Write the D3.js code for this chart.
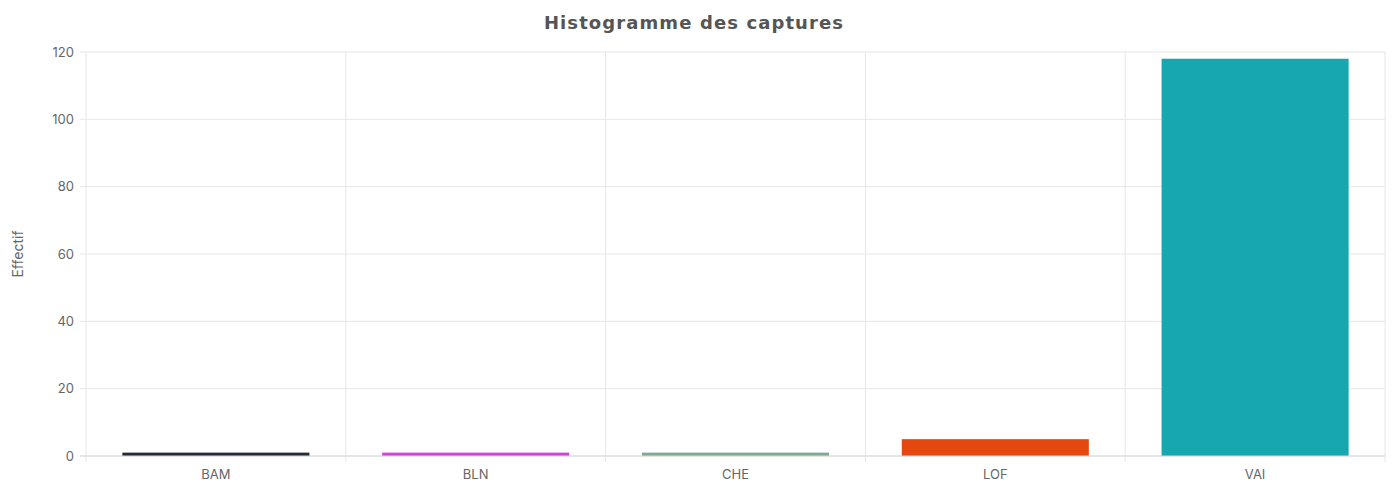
<!DOCTYPE html>
<html><head><meta charset="utf-8">
<script src="https://cdn.jsdelivr.net/npm/d3@7"></script>
<style>body{margin:0;background:#fff;}svg{display:block;}</style>
</head><body>
<svg id="chart" width="1395" height="486"></svg>
<script>
const categories = ["BAM","BLN","CHE","LOF","VAI"];
const values = [1,1,1,5,118];
const colors = ["#1f2a3a","#d43fe0","#7aab94","#e4480f","#16a7b1"];
const yTicks = [0,20,40,60,80,100,120];
const title = "Histogramme des captures";
const yLabel = "Effectif";

const svg = d3.select("#chart");
const m = {left:86, right:10, top:52, bottom:30};
const W = 1395, H = 486;
const x = d3.scaleBand().domain(categories).range([m.left, W - m.right]).paddingInner(0).paddingOuter(0);
const y = d3.scaleLinear().domain([0,120]).range([456, 52]);

svg.append("g").selectAll("line").data(yTicks).join("line")
  .attr("x1", m.left - 6).attr("x2", W - m.right)
  .attr("y1", d => y(d)).attr("y2", d => y(d))
  .attr("stroke", "#e6e6e6").attr("stroke-width", 1);
const bounds = categories.map(c => x(c)).concat([x(categories[categories.length-1]) + x.bandwidth()]);
svg.append("g").selectAll("line").data(bounds).join("line")
  .attr("x1", d => d).attr("x2", d => d)
  .attr("y1", 52).attr("y2", 462)
  .attr("stroke", "#e6e6e6").attr("stroke-width", 1);

const bw = x.bandwidth() * 0.72;
svg.append("g").selectAll("rect").data(categories).join("rect")
  .attr("x", c => x(c) + (x.bandwidth() - bw) / 2)
  .attr("width", bw)
  .attr("y", (c,i) => y(values[i]))
  .attr("height", (c,i) => y(0) - y(values[i]))
  .attr("fill", (c,i) => colors[i]);

svg.append("line").attr("x1", m.left - 6).attr("x2", W - m.right)
  .attr("y1", y(0)).attr("y2", y(0)).attr("stroke", "#d8d8d8");

svg.append("g").selectAll("text").data(yTicks).join("text")
  .attr("x", 74).attr("y", d => y(d)).attr("dy", "0.35em")
  .attr("text-anchor", "end")
  .attr("font-family", "Inter, 'Open Sans', sans-serif").attr("font-size", 13)
  .attr("fill", "#666").text(d => d);

svg.append("g").selectAll("text").data(categories).join("text")
  .attr("x", c => x(c) + x.bandwidth() / 2).attr("y", 479)
  .attr("text-anchor", "middle")
  .attr("font-family", "Inter, 'Open Sans', sans-serif").attr("font-size", 13)
  .attr("fill", "#666").text(c => c);

svg.append("text").attr("transform", "translate(23,254) rotate(-90)")
  .attr("text-anchor", "middle")
  .attr("font-family", "Inter, 'Open Sans', sans-serif").attr("font-size", 14)
  .attr("fill", "#666").text(yLabel);

svg.append("text").attr("x", 694).attr("y", 29)
  .attr("text-anchor", "middle")
  .attr("font-family", "'DejaVu Sans', sans-serif").attr("font-weight", "bold").attr("font-size", 18)
  .attr("letter-spacing", 1.1)
  .attr("fill", "#555").text(title);
</script>
</body></html>
